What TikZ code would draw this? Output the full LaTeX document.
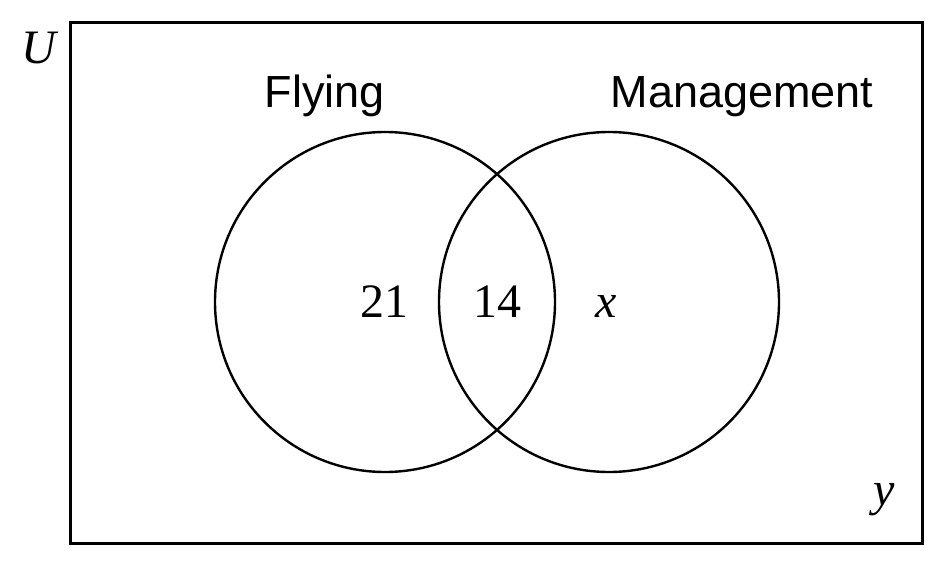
\documentclass[tikz,border=0pt]{standalone}
\usepackage{fontspec}
\setmainfont{Liberation Serif}
\setsansfont{Liberation Sans}
\usetikzlibrary{positioning}

\begin{document}
\begin{tikzpicture}[
  x=1pt, y=-1pt,
  setc/.style ={draw,circle,line width=2.4pt,minimum size=340pt,inner sep=0pt},
  univ/.style ={draw,rectangle,line width=3pt,minimum width=852pt,
                minimum height=521pt,inner sep=0pt},
  lbl/.style  ={anchor=base,inner sep=0pt,font=\sffamily\fontsize{45}{54}\selectfont},
  num/.style  ={anchor=base,inner sep=0pt,font=\fontsize{48}{58}\selectfont},
]
\useasboundingbox (0,0) rectangle (942,562);
\node[univ] (U)   at (496,282.5) {};
\node[setc] (fly) at (385,302) {};
\node[setc] (mgt) at (609,302) {};

% labels
\node[num] (uname) at (39,63)   {\itshape U};
\node[lbl] (flab)  at (325,107) {Flying};
\node[lbl] (mlab)  at (742,107) {Management};
\node[num] (only)  at (384,317) {21};
\node[num] (both)  at (497,317) {14};
\node[num] (monly) at (606,317) {\itshape x};
\node[num] (none)  at (884,505) {\itshape y};
\end{tikzpicture}
\end{document}
